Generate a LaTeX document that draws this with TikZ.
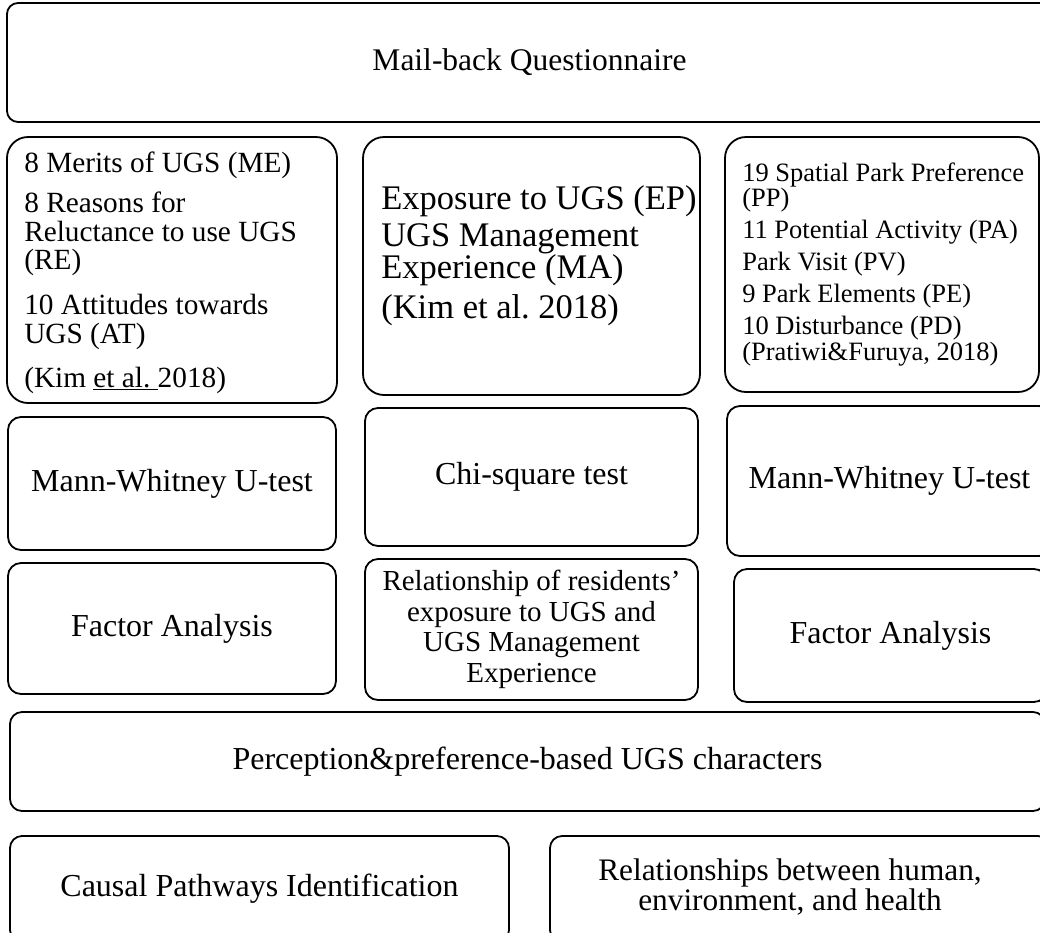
\documentclass[tikz,border=0pt]{standalone}
\usepackage{fontspec}
\setmainfont{Liberation Serif}
\tikzset{
  box/.style={draw, line width=1.8pt, rounded corners=13pt, inner sep=0pt, align=center},
  tallbox/.style={box, rounded corners=21pt},
  list/.style={anchor=west, align=left, inner sep=0pt},
}
\newcommand{\fs}[2]{\fontsize{#1}{#2}\selectfont}

\begin{document}
\begin{tikzpicture}[x=1pt,y=-1pt]
    \useasboundingbox (0,0) rectangle (1040,932);
    \clip (0,0) rectangle (1040,932);

    % survey
    \node[box, rounded corners=11pt, minimum width=1045pt, minimum height=119pt, font=\fs{31.5}{34}] (mail) at (529.5,62.5) {Mail-back Questionnaire};

    % variables
    \node[tallbox, minimum width=330pt, minimum height=266pt] (merit) at (172,270) {};
    \node[list, font=\fs{29.3}{28.5}] (merit-txt) at ([xshift=18pt,yshift=-3pt]merit.west)
      {8 Merits of UGS (ME)\\[11.5pt]
       8 Reasons for\\
       Reluctance to use UGS\\
       (RE)\\[16.5pt]
       10 Attitudes towards\\
       UGS (AT)\\[15.5pt]
       (Kim \underline{et al.\ }2018)};
    \node[tallbox, minimum width=337pt, minimum height=258pt] (expo) at (531.5,266) {};
    \node[list, font=\fs{34.5}{28.5}] (expo-txt) at ([xshift=19pt,yshift=10pt]expo.west)
      {Exposure to UGS (EP)\\[5pt]
       UGS Management\\
       Experience (MA)\\[8pt]
       (Kim et al.\ 2018)};
    \node[tallbox, minimum width=314pt, minimum height=255pt] (pref) at (882,264.5) {};
    \node[list, font=\fs{26.5}{25.5}] (pref-txt) at ([xshift=18pt]pref.west)
      {19 Spatial Park Preference\\
       (PP)\\[6.5pt]
       11 Potential Activity (PA)\\[6.5pt]
       Park Visit (PV)\\[6.5pt]
       9 Park Elements (PE)\\[6.5pt]
       10 Disturbance (PD)\\
       (Pratiwi\&Furuya, 2018)};

    % tests
    \node[box, minimum width=328pt, minimum height=133pt, font=\fs{32}{34}] (mw-a) at (172,483.5) {Mann-Whitney U-test};
    \node[box, minimum width=333pt, minimum height=138pt, font=\fs{32}{34}] (chi) at (531.5,477) {Chi-square test};
    \node[box, minimum width=325pt, minimum height=150pt, font=\fs{32}{34}] (mw-b) at (889.5,481) {Mann-Whitney U-test};

    % analyses
    \node[box, minimum width=328pt, minimum height=131pt, font=\fs{32}{34}] (fa-a) at (172,628.5) {Factor Analysis};
    \node[box, minimum width=333pt, minimum height=141pt, font=\fs{29}{30.5}] (rel) at (531.5,629.5)
      {Relationship of residents’\\ exposure to UGS and\\ UGS Management\\ Experience};
    \node[box, minimum width=313pt, minimum height=133pt, font=\fs{32}{34}] (fa-b) at (890.5,635.5) {Factor Analysis};

    % outcomes
    \node[box, rounded corners=12pt, minimum width=1035pt, minimum height=99pt, font=\fs{32}{34}] (perc) at (527.5,761.5) {Perception\&preference-based UGS characters};
    \node[box, rounded corners=12pt, minimum width=499pt, minimum height=106pt, font=\fs{32}{34}] (cause) at (259.5,889) {Causal Pathways Identification};
    \node[box, rounded corners=12pt, minimum width=500pt, minimum height=106pt] (health) at (800,889) {};
    \node[align=center, inner sep=0pt, font=\fs{31.3}{30}] (health-txt) at (790,887)
      {Relationships between human,\\ environment, and health};
\end{tikzpicture}
\end{document}
